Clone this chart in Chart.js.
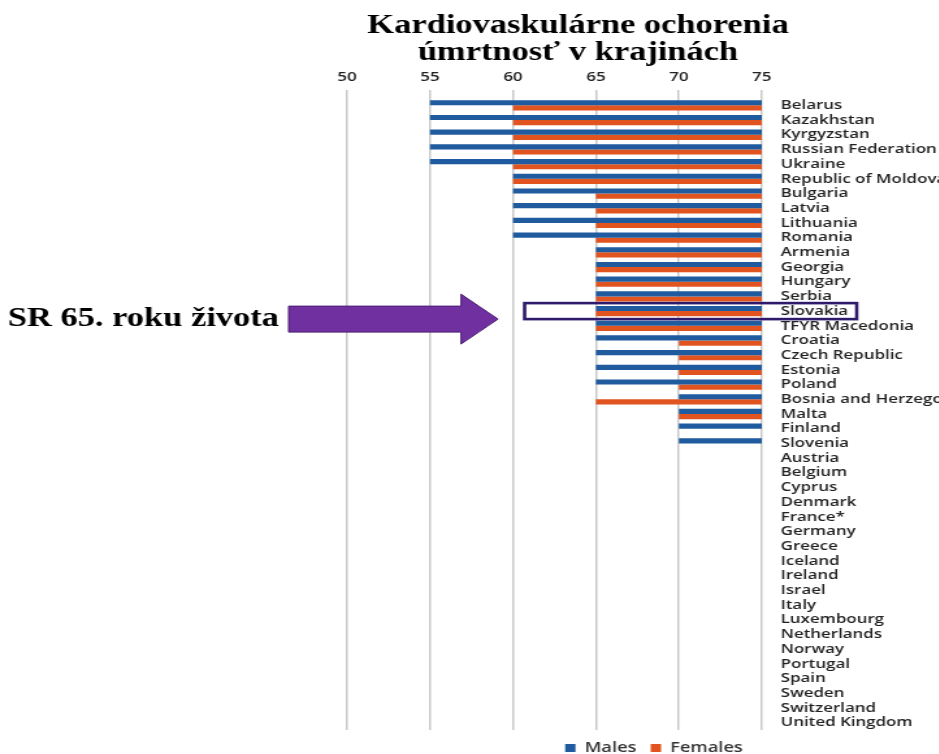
<!DOCTYPE html>
<html>
<head>
<meta charset="utf-8">
<title>Kardiovaskulárne ochorenia</title>
<script src="https://cdn.jsdelivr.net/npm/chart.js@4.4.1/dist/chart.umd.min.js"></script>
<style>
    html, body { margin: 0; padding: 0; background: #fff; overflow: hidden; }
    /* the source picture is stretched sideways, so the whole chart is too */
    #wrap {
        position: absolute; left: 0; top: 0;
        width: 739px; height: 765px;
        transform: scaleX(1.3);
        transform-origin: 0 0;
    }
</style>
</head>
<body>
<div id="wrap"><canvas id="cvdChart"></canvas></div>
<script>
// Data
const countries = [
    'Belarus', 'Kazakhstan', 'Kyrgyzstan', 'Russian Federation', 'Ukraine',
    'Republic of Moldova', 'Bulgaria', 'Latvia', 'Lithuania', 'Romania',
    'Armenia', 'Georgia', 'Hungary', 'Serbia', 'Slovakia', 'TFYR Macedonia',
    'Croatia', 'Czech Republic', 'Estonia', 'Poland', 'Bosnia and Herzegovina',
    'Malta', 'Finland', 'Slovenia', 'Austria', 'Belgium', 'Cyprus', 'Denmark',
    'France*', 'Germany', 'Greece', 'Iceland', 'Ireland', 'Israel', 'Italy',
    'Luxembourg', 'Netherlands', 'Norway', 'Portugal', 'Spain', 'Sweden',
    'Switzerland', 'United Kingdom'
];
const malesFrom = [
    55, 55, 55, 55, 55, 60, 60, 60, 60, 60, 65, 65, 65, 65, 65, 65,
    65, 65, 65, 65, 70, 70, 70, 70, null, null, null, null, null, null,
    null, null, null, null, null, null, null, null, null, null, null, null, null
];
const femalesFrom = [
    60, 60, 60, 60, 60, 60, 65, 65, 65, 65, 65, 65, 65, 65, 65, 65,
    70, 70, 70, 70, 65, 70, null, null, null, null, null, null, null, null,
    null, null, null, null, null, null, null, null, null, null, null, null, null
];
const barEnd = 75;
const xTicks = [50, 55, 60, 65, 70, 75];
const titleLines = ['Kardiovaskulárne ochorenia', 'úmrtnosť v krajinách'];
const noteText = 'SR 65. roku života';
const highlighted = 'Slovakia';

Chart.defaults.font.family = '"Open Sans", sans-serif';

// Title, arrow and highlight box
const annotations = {
    id: 'annotations',
    afterDraw(chart) {
        const ctx = chart.ctx;
        const x = chart.scales.x;
        const y = chart.scales.y;
        const rowY = y.getPixelForValue(countries.indexOf(highlighted));

        ctx.save();
        ctx.fillStyle = '#000';
        ctx.font = 'bold 26.5px "Liberation Serif", serif';
        ctx.textAlign = 'center';
        ctx.textBaseline = 'alphabetic';
        ctx.fillText(titleLines[0], 444.6, 33);
        ctx.fillText(titleLines[1], 444.6, 60);

        ctx.textAlign = 'left';
        ctx.fillText(noteText, 6, rowY + 15);

        // arrow
        const tip = x.getPixelForValue(59.1);
        const headBase = tip - 28.5;
        const cy = rowY + 8;
        ctx.beginPath();
        ctx.moveTo(222, cy - 13);
        ctx.lineTo(headBase, cy - 13);
        ctx.lineTo(headBase, cy - 25);
        ctx.lineTo(tip, cy);
        ctx.lineTo(headBase, cy + 25);
        ctx.lineTo(headBase, cy + 13);
        ctx.lineTo(222, cy + 13);
        ctx.closePath();
        ctx.fillStyle = '#7030A0';
        ctx.fill();
        ctx.lineWidth = 1;
        ctx.strokeStyle = '#4B1F73';
        ctx.stroke();

        // box round the highlighted row
        const left = x.getPixelForValue(60.7);
        const right = chart.chartArea.right + 73;
        ctx.lineWidth = 2.6;
        ctx.strokeStyle = '#2E1A6B';
        ctx.strokeRect(left, rowY - 8, right - left, 16);
        ctx.restore();
    }
};

const cvdChart = new Chart(document.getElementById('cvdChart'), {
    type: 'bar',
    data: {
        labels: countries,
        datasets: [{
            label: 'Males',
            data: malesFrom.map(v => v === null ? null : [v, barEnd]),
            backgroundColor: '#1F5B9E',
            categoryPercentage: 0.7,
            barPercentage: 1.0
        }, {
            label: 'Females',
            data: femalesFrom.map(v => v === null ? null : [v, barEnd]),
            backgroundColor: '#E2541F',
            categoryPercentage: 0.7,
            barPercentage: 1.0
        }]
    },
    options: {
        indexAxis: 'y',
        responsive: true,
        maintainAspectRatio: false,
        animation: false,
        layout: {
            padding: { left: 267, top: 64.4, right: 0, bottom: 0 }
        },
        plugins: {
            legend: {
                position: 'bottom',
                labels: {
                    boxWidth: 8,
                    boxHeight: 8,
                    padding: 11,
                    color: '#333',
                    font: { size: 14, weight: '600' }
                }
            },
            tooltip: { enabled: false }
        },
        scales: {
            x: {
                position: 'top',
                min: 50,
                max: 75,
                afterBuildTicks: axis => {
                    axis.ticks = xTicks.map(v => ({ value: v }));
                },
                grid: {
                    color: '#C9C9C9',
                    lineWidth: 1.5,
                    tickLength: 8
                },
                border: { display: false },
                ticks: {
                    color: '#222',
                    padding: 5,
                    font: { size: 13, weight: '600' }
                }
            },
            y: {
                position: 'right',
                grid: { display: false },
                border: { display: false },
                afterFit: axis => { axis.width = 153; },
                ticks: {
                    autoSkip: false,
                    padding: 6.5,
                    color: '#222',
                    font: { size: 13, weight: '600' }
                }
            }
        }
    },
    plugins: [annotations]
});
</script>
</body>
</html>
